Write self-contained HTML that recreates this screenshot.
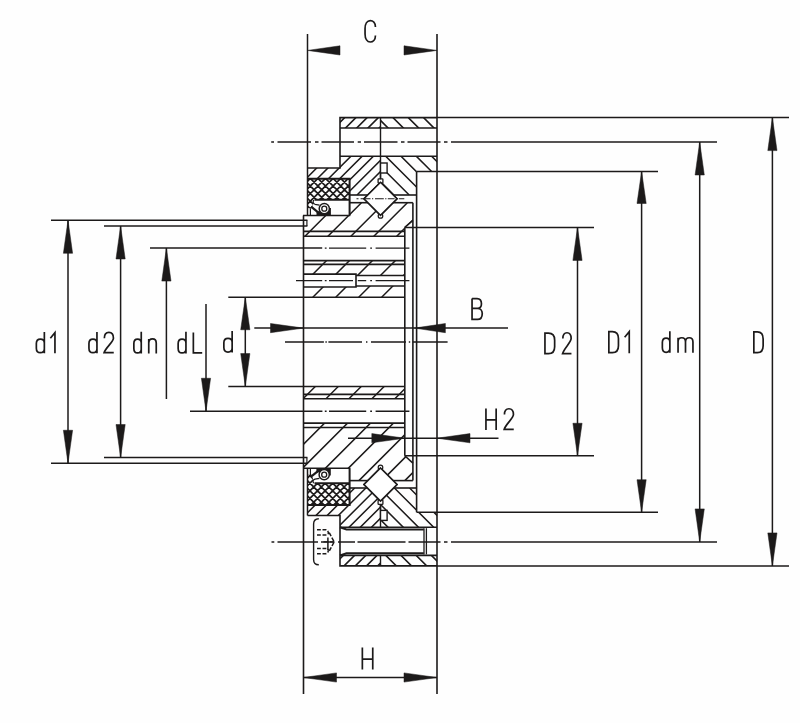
<!DOCTYPE html>
<html><head><meta charset="utf-8"><title>Bearing section</title>
<style>html,body{margin:0;padding:0;background:#fff;font-family:"Liberation Sans",sans-serif;}
svg{display:block}</style></head>
<body><svg width="800" height="723" viewBox="0 0 800 723">
<rect width="800" height="723" fill="#fefefe"/>
<defs><mask id="c1" maskUnits="userSpaceOnUse" x="0" y="0" width="800" height="723"><path d="M340.0,117.6 L380.5,117.6 L380.5,182.3 L367.8,195.0 L349.6,195.0 L349.6,178.8 L307.5,178.8 L307.5,168.0 L340.0,168.0 Z" fill="#fff" stroke="none"/><path d="M339.0,128.0 L438.0,128.0 L438.0,156.3 L339.0,156.3 Z" fill="#000" stroke="none"/></mask><mask id="c2" maskUnits="userSpaceOnUse" x="0" y="0" width="800" height="723"><path d="M380.5,117.6 L437.0,117.6 L437.0,171.5 L416.6,171.5 L416.6,195.0 L393.2,195.0 L380.5,182.3 Z" fill="#fff" stroke="none"/><path d="M339.0,128.0 L438.0,128.0 L438.0,156.3 L339.0,156.3 Z" fill="#000" stroke="none"/><path d="M380.5,163.0 L387.1,163.0 L387.1,173.0 L380.5,173.0 Z" fill="#000" stroke="none"/></mask><mask id="c3" maskUnits="userSpaceOnUse" x="0" y="0" width="800" height="723"><path d="M303.5,215.5 L349.6,215.5 L349.6,202.7 L367.9,202.7 L380.5,215.3 L393.1,202.7 L412.9,202.7 L412.9,220.3 L404.8,227.4 L404.8,297.25 L303.5,297.25 Z" fill="#fff" stroke="none"/><path d="M302.5,236.2 L405.8,236.2 L405.8,260.6 L302.5,260.6 Z" fill="#000" stroke="none"/><path d="M302.5,274.1 L356.0,274.1 L356.0,275.5 L405.8,275.5 L405.8,286.0 L356.0,286.0 L356.0,287.0 L302.5,287.0 Z" fill="#000" stroke="none"/></mask><mask id="c4" maskUnits="userSpaceOnUse" x="0" y="0" width="800" height="723"><path d="M303.5,386.55 L404.8,386.55 L404.8,455.75 L412.9,463.2 L412.9,480.6 L393.1,480.6 L380.5,468.0 L367.9,480.6 L349.6,480.6 L349.6,468.2 L303.5,468.2 Z" fill="#fff" stroke="none"/><path d="M302.5,398.75 L405.8,398.75 L405.8,423.1 L302.5,423.1 Z" fill="#000" stroke="none"/></mask><mask id="c5" maskUnits="userSpaceOnUse" x="0" y="0" width="800" height="723"><path d="M349.6,488.0 L367.5,488.0 L380.5,501.0 L380.5,565.9 L340.0,565.9 L340.0,515.5 L307.5,515.5 L307.5,505.0 L349.6,505.0 Z" fill="#fff" stroke="none"/><path d="M339.0,527.2 L438.0,527.2 L438.0,555.4 L339.0,555.4 Z" fill="#000" stroke="none"/></mask><mask id="c6" maskUnits="userSpaceOnUse" x="0" y="0" width="800" height="723"><path d="M380.5,501.0 L393.5,488.0 L416.6,488.0 L416.6,512.2 L437.0,512.2 L437.0,565.9 L380.5,565.9 Z" fill="#fff" stroke="none"/><path d="M339.0,527.2 L438.0,527.2 L438.0,555.4 L339.0,555.4 Z" fill="#000" stroke="none"/><path d="M380.5,510.4 L387.1,510.4 L387.1,520.4 L380.5,520.4 Z" fill="#000" stroke="none"/></mask><clipPath id="c7"><path d="M307.5,178.8 L349.6,178.8 L349.6,199.8 L314.0,199.8 L312.0,208.3 L307.5,208.3 Z"/></clipPath><clipPath id="c8"><path d="M307.5,505.0 L349.6,505.0 L349.6,483.2 L314.0,483.2 L312.0,474.7 L307.5,474.7 Z"/></clipPath></defs>
<g stroke="#1c1a1a" fill="none" stroke-linecap="butt">
<path d="M222.40,195.0 L299.80,117.6 M233.62,195.0 L311.02,117.6 M244.84,195.0 L322.24,117.6 M256.06,195.0 L333.46,117.6 M267.28,195.0 L344.68,117.6 M278.50,195.0 L355.90,117.6 M289.72,195.0 L367.12,117.6 M300.94,195.0 L378.34,117.6 M312.16,195.0 L389.56,117.6 M323.38,195.0 L400.78,117.6 M334.60,195.0 L412.00,117.6 M345.82,195.0 L423.22,117.6 M357.04,195.0 L434.44,117.6 M368.26,195.0 L445.66,117.6 M379.48,195.0 L456.88,117.6" stroke-width="1.5" fill="none" mask="url(#c1)"/>
<path d="M301.20,117.6 L378.60,195.0 M316.50,117.6 L393.90,195.0 M331.80,117.6 L409.20,195.0 M347.10,117.6 L424.50,195.0 M362.40,117.6 L439.80,195.0 M377.70,117.6 L455.10,195.0 M393.00,117.6 L470.40,195.0 M408.30,117.6 L485.70,195.0 M423.60,117.6 L501.00,195.0" stroke-width="1.5" fill="none" mask="url(#c2)"/>
<path d="M198.05,297.25 L292.60,202.7 M221.00,297.25 L315.55,202.7 M243.95,297.25 L338.50,202.7 M266.90,297.25 L361.45,202.7 M289.85,297.25 L384.40,202.7 M312.80,297.25 L407.35,202.7 M335.75,297.25 L430.30,202.7 M358.70,297.25 L453.25,202.7 M381.65,297.25 L476.20,202.7 M404.60,297.25 L499.15,202.7" stroke-width="1.5" fill="none" mask="url(#c3)"/>
<path d="M198.30,480.6 L292.35,386.55 M221.25,480.6 L315.30,386.55 M244.20,480.6 L338.25,386.55 M267.15,480.6 L361.20,386.55 M290.10,480.6 L384.15,386.55 M313.05,480.6 L407.10,386.55 M336.00,480.6 L430.05,386.55 M358.95,480.6 L453.00,386.55 M381.90,480.6 L475.95,386.55 M404.85,480.6 L498.90,386.55" stroke-width="1.5" fill="none" mask="url(#c4)"/>
<path d="M220.66,565.9 L298.56,488.0 M231.88,565.9 L309.78,488.0 M243.10,565.9 L321.00,488.0 M254.32,565.9 L332.22,488.0 M265.54,565.9 L343.44,488.0 M276.76,565.9 L354.66,488.0 M287.98,565.9 L365.88,488.0 M299.20,565.9 L377.10,488.0 M310.42,565.9 L388.32,488.0 M321.64,565.9 L399.54,488.0 M332.86,565.9 L410.76,488.0 M344.08,565.9 L421.98,488.0 M355.30,565.9 L433.20,488.0 M366.52,565.9 L444.42,488.0 M377.74,565.9 L455.64,488.0" stroke-width="1.5" fill="none" mask="url(#c5)"/>
<path d="M288.00,488.0 L365.90,565.9 M303.20,488.0 L381.10,565.9 M318.40,488.0 L396.30,565.9 M333.60,488.0 L411.50,565.9 M348.80,488.0 L426.70,565.9 M364.00,488.0 L441.90,565.9 M379.20,488.0 L457.10,565.9 M394.40,488.0 L472.30,565.9 M409.60,488.0 L487.50,565.9 M424.80,488.0 L502.70,565.9" stroke-width="1.5" fill="none" mask="url(#c6)"/>
<path d="M248.50,209.8 L289.50,168.8 M256.10,209.8 L297.10,168.8 M263.70,209.8 L304.70,168.8 M271.30,209.8 L312.30,168.8 M278.90,209.8 L319.90,168.8 M286.50,209.8 L327.50,168.8 M294.10,209.8 L335.10,168.8 M301.70,209.8 L342.70,168.8 M309.30,209.8 L350.30,168.8 M316.90,209.8 L357.90,168.8 M324.50,209.8 L365.50,168.8 M332.10,209.8 L373.10,168.8 M339.70,209.8 L380.70,168.8 M347.30,209.8 L388.30,168.8 M354.90,209.8 L395.90,168.8 M362.50,209.8 L403.50,168.8 M247.50,168.8 L288.50,209.8 M255.10,168.8 L296.10,209.8 M262.70,168.8 L303.70,209.8 M270.30,168.8 L311.30,209.8 M277.90,168.8 L318.90,209.8 M285.50,168.8 L326.50,209.8 M293.10,168.8 L334.10,209.8 M300.70,168.8 L341.70,209.8 M308.30,168.8 L349.30,209.8 M315.90,168.8 L356.90,209.8 M323.50,168.8 L364.50,209.8 M331.10,168.8 L372.10,209.8 M338.70,168.8 L379.70,209.8 M346.30,168.8 L387.30,209.8 M353.90,168.8 L394.90,209.8 M361.50,168.8 L402.50,209.8 M369.10,168.8 L410.10,209.8" stroke-width="1.7" fill="none" clip-path="url(#c7)"/>
<path d="M247.70,515.0 L289.50,473.2 M255.30,515.0 L297.10,473.2 M262.90,515.0 L304.70,473.2 M270.50,515.0 L312.30,473.2 M278.10,515.0 L319.90,473.2 M285.70,515.0 L327.50,473.2 M293.30,515.0 L335.10,473.2 M300.90,515.0 L342.70,473.2 M308.50,515.0 L350.30,473.2 M316.10,515.0 L357.90,473.2 M323.70,515.0 L365.50,473.2 M331.30,515.0 L373.10,473.2 M338.90,515.0 L380.70,473.2 M346.50,515.0 L388.30,473.2 M354.10,515.0 L395.90,473.2 M361.70,515.0 L403.50,473.2 M369.30,515.0 L411.10,473.2 M246.70,473.2 L288.50,515.0 M254.30,473.2 L296.10,515.0 M261.90,473.2 L303.70,515.0 M269.50,473.2 L311.30,515.0 M277.10,473.2 L318.90,515.0 M284.70,473.2 L326.50,515.0 M292.30,473.2 L334.10,515.0 M299.90,473.2 L341.70,515.0 M307.50,473.2 L349.30,515.0 M315.10,473.2 L356.90,515.0 M322.70,473.2 L364.50,515.0 M330.30,473.2 L372.10,515.0 M337.90,473.2 L379.70,515.0 M345.50,473.2 L387.30,515.0 M353.10,473.2 L394.90,515.0 M360.70,473.2 L402.50,515.0 M368.30,473.2 L410.10,515.0" stroke-width="1.7" fill="none" clip-path="url(#c8)"/>
<path d="M307.5,168.0 L340.0,168.0 L340.0,117.6 L437.0,117.6" stroke-width="1.6" fill="none" />
<line x1="340.0" y1="128.0" x2="437.0" y2="128.0" stroke-width="1.6" />
<line x1="340.0" y1="156.3" x2="437.0" y2="156.3" stroke-width="1.6" />
<line x1="380.5" y1="117.6" x2="380.5" y2="179.3" stroke-width="1.4" />
<line x1="416.6" y1="171.5" x2="416.6" y2="512.2" stroke-width="1.6" />
<line x1="416.6" y1="195.0" x2="393.2" y2="195.0" stroke-width="1.6" />
<line x1="349.6" y1="195.0" x2="367.8" y2="195.0" stroke-width="1.6" />
<path d="M307.5,178.8 L349.6,178.8 L349.6,215.5" stroke-width="2.0" fill="none" />
<path d="M314.5,199.8 L349.6,199.8" stroke-width="2.0" fill="none" />
<line x1="307.5" y1="168.0" x2="307.5" y2="215.5" stroke-width="1.5" />
<line x1="303.0" y1="215.5" x2="350.2" y2="215.5" stroke-width="1.6" />
<line x1="349.6" y1="202.7" x2="367.9" y2="202.7" stroke-width="1.6" />
<line x1="393.1" y1="202.7" x2="412.9" y2="202.7" stroke-width="1.6" />
<line x1="412.9" y1="202.7" x2="412.9" y2="480.6" stroke-width="1.6" />
<line x1="412.9" y1="220.3" x2="404.8" y2="227.4" stroke-width="1.6" />
<line x1="404.8" y1="227.4" x2="404.8" y2="455.75" stroke-width="1.6" />
<line x1="404.8" y1="455.75" x2="412.9" y2="463.2" stroke-width="1.6" />
<line x1="303.5" y1="231.4" x2="404.8" y2="231.4" stroke-width="1.6" />
<line x1="303.5" y1="236.2" x2="404.8" y2="236.2" stroke-width="1.6" />
<line x1="303.5" y1="260.6" x2="404.8" y2="260.6" stroke-width="1.6" />
<line x1="303.5" y1="264.4" x2="404.8" y2="264.4" stroke-width="1.6" />
<path d="M303.5,274.1 L356.0,274.1 L356.0,287.0 L303.5,287.0 M356.0,275.5 L404.8,275.5 M356.0,286.0 L404.8,286.0" stroke-width="1.6" fill="none" />
<line x1="303.5" y1="297.25" x2="404.8" y2="297.25" stroke-width="1.6" />
<line x1="303.5" y1="386.55" x2="404.8" y2="386.55" stroke-width="1.6" />
<line x1="303.5" y1="394.4" x2="404.8" y2="394.4" stroke-width="1.6" />
<line x1="303.5" y1="398.75" x2="404.8" y2="398.75" stroke-width="1.6" />
<line x1="303.5" y1="423.1" x2="404.8" y2="423.1" stroke-width="1.6" />
<line x1="303.5" y1="427.5" x2="404.8" y2="427.5" stroke-width="1.6" />
<line x1="303.0" y1="468.2" x2="350.2" y2="468.2" stroke-width="1.6" />
<line x1="349.6" y1="480.6" x2="367.9" y2="480.6" stroke-width="1.6" />
<line x1="393.1" y1="480.6" x2="412.9" y2="480.6" stroke-width="1.6" />
<line x1="349.6" y1="488.0" x2="367.5" y2="488.0" stroke-width="1.6" />
<line x1="393.5" y1="488.0" x2="416.6" y2="488.0" stroke-width="1.6" />
<path d="M307.5,505.0 L349.6,505.0 L349.6,468.2" stroke-width="2.0" fill="none" />
<path d="M314.5,483.2 L349.6,483.2" stroke-width="2.0" fill="none" />
<line x1="307.5" y1="468.2" x2="307.5" y2="515.5" stroke-width="1.5" />
<path d="M307.5,515.5 L340.0,515.5 L340.0,565.9 L437.0,565.9" stroke-width="1.6" fill="none" />
<line x1="340.0" y1="527.2" x2="437.0" y2="527.2" stroke-width="1.6" />
<line x1="340.0" y1="555.4" x2="437.0" y2="555.4" stroke-width="1.6" />
<path d="M340.0,527.2 L346.5,529.4 L423.8,529.4 M340.0,555.4 L346.5,553.2 L423.8,553.2" stroke-width="2.0" fill="none" />
<line x1="424.0" y1="528.2" x2="424.0" y2="554.4" stroke-width="1.3" />
<line x1="426.4" y1="528.2" x2="426.4" y2="554.4" stroke-width="1.3" />
<line x1="380.5" y1="504.5" x2="380.5" y2="527.2" stroke-width="1.4" />
<line x1="380.5" y1="555.4" x2="380.5" y2="565.9" stroke-width="1.4" />
<polygon points="380.5,182.3 397.0,198.8 380.5,215.3 364.0,198.8" stroke-width="1.6" fill="#fff" />
<polygon points="380.5,468.0 397.0,484.5 380.5,501.0 364.0,484.5" stroke-width="1.6" fill="#fff" />
<rect x="378.1" y="178.9" width="4.8" height="4.2" rx="0.6" fill="#fff" stroke-width="1.3"/>
<circle cx="380.5" cy="215.9" r="2.3" fill="#fff" stroke-width="1.2"/>
<rect x="378.1" y="500.2" width="4.8" height="4.2" rx="0.6" fill="#fff" stroke-width="1.3"/>
<circle cx="380.5" cy="467.4" r="2.3" fill="#fff" stroke-width="1.2"/>
<polygon points="380.5,182.3 397.0,198.8 380.5,215.3 364.0,198.8" stroke-width="1.6" fill="#fff" />
<polygon points="380.5,468.0 397.0,484.5 380.5,501.0 364.0,484.5" stroke-width="1.6" fill="#fff" />
<rect x="380.5" y="163.0" width="6.6" height="10.0" fill="#fff" stroke-width="1.4"/>
<rect x="380.5" y="510.4" width="6.6" height="10.0" fill="#fff" stroke-width="1.4"/>
<line x1="380.5" y1="173" x2="380.5" y2="179.3" stroke-width="1.4" />
<line x1="380.5" y1="504.5" x2="380.5" y2="510.4" stroke-width="1.4" />
<path d="M316.5,210.9 L316.5,215.4 L330.9,215.4 L330.9,207.9 L328.3,207.9 L328.3,211.7 Z" fill="#1c1a1a" stroke="none"/>
<path d="M311.1,206.7 L317.8,212.1" stroke-width="2.2" fill="none"/>
<circle cx="324.3" cy="208.7" r="5.1" fill="#fff" stroke-width="1.5"/>
<circle cx="324.3" cy="208.7" r="2.5" fill="#fff" stroke-width="1.3"/>
<path d="M319.5,205.1 L315.1,204.3 Q312.1,203.3 313.7,200.1" stroke-width="1.2" fill="none"/>
<line x1="310.4" y1="208.2" x2="310.4" y2="215.4" stroke-width="1.2"/>
<path d="M316.4,472.5 L316.4,468.0 L330.8,468.0 L330.8,475.5 L328.2,475.5 L328.2,471.7 Z" fill="#1c1a1a" stroke="none"/>
<path d="M311.0,476.7 L317.7,471.3" stroke-width="2.2" fill="none"/>
<circle cx="324.2" cy="474.7" r="5.1" fill="#fff" stroke-width="1.5"/>
<circle cx="324.2" cy="474.7" r="2.5" fill="#fff" stroke-width="1.3"/>
<path d="M319.4,478.3 L315.0,479.1 Q312.0,480.1 313.6,483.3" stroke-width="1.2" fill="none"/>
<line x1="310.4" y1="475.2" x2="310.4" y2="468.0" stroke-width="1.2"/>
<line x1="306.9" y1="220.3" x2="306.9" y2="226" stroke-width="1.2" />
<line x1="306.9" y1="457.5" x2="306.9" y2="463.25" stroke-width="1.2" />
<line x1="307.5" y1="34" x2="307.5" y2="168.0" stroke-width="1.5" />
<line x1="303.5" y1="215.5" x2="303.5" y2="694" stroke-width="1.6" />
<line x1="437.0" y1="34" x2="437.0" y2="694" stroke-width="1.6" />
<polygon points="307.50,50.40 340.00,45.80 340.00,55.00" fill="#1c1a1a" stroke="#1c1a1a" stroke-width="0.5"/>
<polygon points="437.00,50.40 404.00,55.00 404.00,45.80" fill="#1c1a1a" stroke="#1c1a1a" stroke-width="0.5"/>
<line x1="303.5" y1="677.5" x2="437.0" y2="677.5" stroke-width="1.5" />
<polygon points="303.50,677.50 336.50,672.90 336.50,682.10" fill="#1c1a1a" stroke="#1c1a1a" stroke-width="0.5"/>
<polygon points="437.00,677.50 404.00,682.10 404.00,672.90" fill="#1c1a1a" stroke="#1c1a1a" stroke-width="0.5"/>
<line x1="51" y1="220.3" x2="307.4" y2="220.3" stroke-width="1.5" />
<line x1="51" y1="463.25" x2="307.4" y2="463.25" stroke-width="1.5" />
<line x1="68" y1="220.3" x2="68" y2="463.25" stroke-width="1.5" />
<polygon points="68.00,220.30 72.60,253.30 63.40,253.30" fill="#1c1a1a" stroke="#1c1a1a" stroke-width="0.5"/>
<polygon points="68.00,463.25 63.40,430.25 72.60,430.25" fill="#1c1a1a" stroke="#1c1a1a" stroke-width="0.5"/>
<line x1="104" y1="226" x2="307.4" y2="226" stroke-width="1.5" />
<line x1="104" y1="457.5" x2="307.4" y2="457.5" stroke-width="1.5" />
<line x1="120.6" y1="226" x2="120.6" y2="457.5" stroke-width="1.5" />
<polygon points="120.60,226.00 125.20,259.00 116.00,259.00" fill="#1c1a1a" stroke="#1c1a1a" stroke-width="0.5"/>
<polygon points="120.60,457.50 116.00,424.50 125.20,424.50" fill="#1c1a1a" stroke="#1c1a1a" stroke-width="0.5"/>
<line x1="150" y1="248.1" x2="322.2" y2="248.1" stroke-width="1.5" />
<line x1="166.4" y1="248.1" x2="166.4" y2="399" stroke-width="1.5" />
<polygon points="166.40,248.10 171.00,281.10 161.80,281.10" fill="#1c1a1a" stroke="#1c1a1a" stroke-width="0.5"/>
<line x1="206" y1="304" x2="206" y2="411.2" stroke-width="1.5" />
<line x1="190" y1="411.25" x2="322.4" y2="411.25" stroke-width="1.5" />
<polygon points="206.00,411.25 201.40,378.25 210.60,378.25" fill="#1c1a1a" stroke="#1c1a1a" stroke-width="0.5"/>
<line x1="228.3" y1="297.25" x2="303.5" y2="297.25" stroke-width="1.5" />
<line x1="228.3" y1="386.55" x2="303.5" y2="386.55" stroke-width="1.5" />
<line x1="245.3" y1="297.25" x2="245.3" y2="386.55" stroke-width="1.5" />
<polygon points="245.30,297.25 249.90,329.75 240.70,329.75" fill="#1c1a1a" stroke="#1c1a1a" stroke-width="0.5"/>
<polygon points="245.30,386.55 240.70,353.55 249.90,353.55" fill="#1c1a1a" stroke="#1c1a1a" stroke-width="0.5"/>
<line x1="254.3" y1="328.1" x2="508" y2="328.1" stroke-width="1.5" />
<polygon points="303.50,328.10 270.50,332.70 270.50,323.50" fill="#1c1a1a" stroke="#1c1a1a" stroke-width="0.5"/>
<polygon points="414.40,328.10 445.40,323.50 445.40,332.70" fill="#1c1a1a" stroke="#1c1a1a" stroke-width="0.5"/>
<line x1="348" y1="438.2" x2="498.5" y2="438.2" stroke-width="1.5" />
<polygon points="404.80,438.20 371.80,442.80 371.80,433.60" fill="#1c1a1a" stroke="#1c1a1a" stroke-width="0.5"/>
<polygon points="437.00,438.20 470.00,433.60 470.00,442.80" fill="#1c1a1a" stroke="#1c1a1a" stroke-width="0.5"/>
<line x1="437.0" y1="117.6" x2="789" y2="117.6" stroke-width="1.5" />
<line x1="437.0" y1="565.9" x2="789" y2="565.9" stroke-width="1.5" />
<line x1="772.4" y1="117.6" x2="772.4" y2="565.9" stroke-width="1.5" />
<polygon points="772.40,117.60 777.00,150.60 767.80,150.60" fill="#1c1a1a" stroke="#1c1a1a" stroke-width="0.5"/>
<polygon points="772.40,565.90 767.80,532.90 777.00,532.90" fill="#1c1a1a" stroke="#1c1a1a" stroke-width="0.5"/>
<line x1="451" y1="142" x2="717" y2="142" stroke-width="1.5" />
<line x1="451" y1="541.9" x2="717" y2="541.9" stroke-width="1.5" />
<line x1="699.7" y1="142" x2="699.7" y2="541.9" stroke-width="1.5" />
<polygon points="699.70,142.00 704.30,175.00 695.10,175.00" fill="#1c1a1a" stroke="#1c1a1a" stroke-width="0.5"/>
<polygon points="699.70,541.90 695.10,508.90 704.30,508.90" fill="#1c1a1a" stroke="#1c1a1a" stroke-width="0.5"/>
<line x1="416.6" y1="171.5" x2="658" y2="171.5" stroke-width="1.5" />
<line x1="416.6" y1="512.2" x2="658" y2="512.2" stroke-width="1.5" />
<line x1="641.6" y1="171.5" x2="641.6" y2="512.2" stroke-width="1.5" />
<polygon points="641.60,171.50 646.20,203.50 637.00,203.50" fill="#1c1a1a" stroke="#1c1a1a" stroke-width="0.5"/>
<polygon points="641.60,512.20 637.00,479.70 646.20,479.70" fill="#1c1a1a" stroke="#1c1a1a" stroke-width="0.5"/>
<line x1="404.8" y1="227.4" x2="594" y2="227.4" stroke-width="1.5" />
<line x1="404.8" y1="455.75" x2="594" y2="455.75" stroke-width="1.5" />
<line x1="577.5" y1="227.4" x2="577.5" y2="455.75" stroke-width="1.5" />
<polygon points="577.50,227.40 582.10,260.40 572.90,260.40" fill="#1c1a1a" stroke="#1c1a1a" stroke-width="0.5"/>
<polygon points="577.50,455.75 572.90,423.25 582.10,423.25" fill="#1c1a1a" stroke="#1c1a1a" stroke-width="0.5"/>
<path d="M271.2,142 L274,142 M277.5,142 L311,142 M315,142 L318.5,142 M321.5,142 L354,142 M357.7,142 L361,142 M364,142 L397.5,142 M401,142 L404.5,142 M407.5,142 L440.5,142 M444,142 L447.5,142" stroke-width="1.45" fill="none" />
<path d="M271.5,541.9 L274.3,541.9 M277.5,541.9 L318,541.9 M321,541.9 L334.5,541.9 M338,541.9 L355,541.9 M357.5,541.9 L405.5,541.9 M408.5,541.9 L440.5,541.9 M444,541.9 L447.5,541.9" stroke-width="1.45" fill="none" />
<path d="M356.5,198.8 L358.5,198.8 M360.6,198.8 L370.5,198.8 M372,198.8 L373.2,198.8 M375,198.8 L383.8,198.8 M385.2,198.8 L386.4,198.8 M387.8,198.8 L394.6,198.8 M396,198.8 L397,198.8 M398.8,198.8 L404.3,198.8" stroke-width="1.1" fill="none" />
<path d="M324.8,248.1 L326.6,248.1 M329,248.1 L366.2,248.1 M370.2,248.1 L372,248.1 M375.6,248.1 L409.4,248.1" stroke-width="1.45" fill="none" />
<path d="M296,280.6 L322.2,280.6 M324.8,280.6 L326.6,280.6 M329,280.6 L353,280.6 M357.8,280.6 L366.2,280.6 M370.2,280.6 L372,280.6 M375.6,280.6 L409.4,280.6" stroke-width="1.45" fill="none" />
<path d="M285,341.9 L323.9,341.9 M325.4,341.9 L326.8,341.9 M328.4,341.9 L362,341.9 M366,341.9 L367.4,341.9 M371,341.9 L406,341.9 M408.8,341.9 L410.2,341.9 M412.8,341.9 L447.6,341.9" stroke-width="1.45" fill="none" />
<path d="M324.8,411.25 L326.6,411.25 M329,411.25 L366.2,411.25 M370.2,411.25 L372,411.25 M375.6,411.25 L409.4,411.25" stroke-width="1.45" fill="none" />
<path d="M318.8,518.7 Q313.6,518.7 313.6,524 L313.6,559.5 Q313.6,564.8 318.8,564.8" stroke-width="1.4" fill="none" />
<path d="M317,529.7 L325.5,529.7 Q328.6,529.9 328.4,534.2 M317,534.9 L326,534.9 Q328,534.9 328.4,533" stroke-width="1.55" fill="none" stroke-dasharray="3.8 1.7"/>
<path d="M317,553.7 L325.5,553.7 Q328.6,553.5 328.4,549.2 M317,548.4 L326,548.4 Q328,548.4 328.4,550.4" stroke-width="1.55" fill="none" stroke-dasharray="3.8 1.7"/>
<path d="M327.9,537.5 L327.9,550" stroke-width="1.5" fill="none" />
<path d="M329.2,532.6 L334.2,541.9 L329.2,551.2" stroke-width="1.5" fill="none" stroke-dasharray="4 1.6"/>
<path d="M323.5,541.9 L334,541.9" stroke-width="1.4" fill="none" stroke-dasharray="5 1.5"/>
<path d="M375.45,27.05 C375.45,22.55 372.85,20.55 370.25,20.55 C367.25,20.55 365.05,23.55 365.05,28.55 L365.05,34.0 C365.05,39.0 367.25,42.0 370.25,42.0 C372.85,42.0 375.45,40.0 375.45,35.5" stroke-width="1.7" fill="none" />
<path d="M362.35,647.6 L362.35,669.4 M372.75,647.6 L372.75,669.4 M362.35,659.15 L372.75,659.15" stroke-width="1.7" fill="none" />
<path d="M472.05,298.55 L472.05,319.45 L477.55,319.45 C480.65,319.45 482.25,317.25 482.25,313.45 C482.25,310.57 480.25,308.37 477.55,308.37 L472.05,308.37 M477.55,308.37 C479.85,308.37 481.45,306.57 481.45,303.75 C481.45,300.35 479.65,298.55 477.05,298.55 L472.05,298.55" stroke-width="1.7" fill="none" stroke-linejoin="miter"/>
<path d="M485.95,408.4 L485.95,430.0 M496.15,408.4 L496.15,430.0 M485.95,419.85 L496.15,419.85" stroke-width="1.7" fill="none" />
<path d="M504.45,414.55 C504.45,410.35 506.35,408.75 508.95,408.75 C511.55,408.75 513.45,410.35 513.45,414.55 C513.45,418.25 505.65,424.25 504.15,429.45 L513.75,429.45" stroke-width="1.7" fill="none" stroke-linejoin="miter"/>
<path d="M44.35,331.9 L44.35,353.2 M44.35,343.1 C44.35,340.1 42.55,339.1 40.35,339.1 C37.95,339.1 36.35,340.7 36.35,343.6 L36.35,348.2 C36.35,351.1 37.95,352.7 40.35,352.7 C42.55,352.7 44.35,351.7 44.35,348.7" stroke-width="1.7" fill="none" />
<path d="M50.35,338.2 L54.95,332.6 L54.95,353.2" stroke-width="1.7" fill="none" stroke-linejoin="miter"/>
<path d="M96.95,331.9 L96.95,353.2 M96.95,343.1 C96.95,340.1 95.15,339.1 92.95,339.1 C90.55,339.1 88.95,340.7 88.95,343.6 L88.95,348.2 C88.95,351.1 90.55,352.7 92.95,352.7 C95.15,352.7 96.95,351.7 96.95,348.7" stroke-width="1.7" fill="none" />
<path d="M104.35,338.15 C104.35,333.95 106.25,332.35 108.9,332.35 C111.55,332.35 113.45,333.95 113.45,338.15 C113.45,341.85 105.55,347.85 104.05,352.65 L113.75,352.65" stroke-width="1.7" fill="none" stroke-linejoin="miter"/>
<path d="M141.25,331.8 L141.25,353.4 M141.25,343.1 C141.25,340.1 139.45,339.1 137.55,339.1 C135.45,339.1 133.85,340.7 133.85,343.6 L133.85,348.4 C133.85,351.3 135.45,352.9 137.55,352.9 C139.45,352.9 141.25,351.9 141.25,348.9" stroke-width="1.7" fill="none" />
<path d="M148.75,338.95 L148.75,353.4 M148.75,343.15 C148.75,340.25 150.55,338.95 152.5,338.95 C154.45,338.95 156.25,340.25 156.25,343.15 L156.25,353.4" stroke-width="1.7" fill="none" />
<path d="M185.95,331.8 L185.95,353.4 M185.95,343.1 C185.95,340.1 184.15,339.1 182.05,339.1 C179.75,339.1 178.15,340.7 178.15,343.6 L178.15,348.4 C178.15,351.3 179.75,352.9 182.05,352.9 C184.15,352.9 185.95,351.9 185.95,348.9" stroke-width="1.7" fill="none" />
<path d="M193.35,332.4 L193.35,352.85 L202.2,352.85" stroke-width="1.7" fill="none" stroke-linejoin="miter"/>
<path d="M232.15,331.0 L232.15,352.6 M232.15,342.3 C232.15,339.3 230.35,338.3 228.0,338.3 C225.45,338.3 223.85,339.9 223.85,342.8 L223.85,347.6 C223.85,350.5 225.45,352.1 228.0,352.1 C230.35,352.1 232.15,351.1 232.15,348.1" stroke-width="1.7" fill="none" />
<path d="M544.95,333.15 L544.95,353.65 L548.45,353.65 C552.65,353.65 554.65,351.15 554.65,346.65 L554.65,340.15 C554.65,335.65 552.65,333.15 548.45,333.15 Z" stroke-width="1.7" fill="none" stroke-linejoin="miter"/>
<path d="M562.85,338.55 C562.85,334.35 564.75,332.75 567.0,332.75 C569.25,332.75 571.15,334.35 571.15,338.55 C571.15,342.25 564.05,348.25 562.55,353.65 L571.45,353.65" stroke-width="1.7" fill="none" stroke-linejoin="miter"/>
<path d="M608.85,331.55 L608.85,352.65 L612.35,352.65 C616.45,352.65 618.45,350.15 618.45,345.65 L618.45,338.55 C618.45,334.05 616.45,331.55 612.35,331.55 Z" stroke-width="1.7" fill="none" stroke-linejoin="miter"/>
<path d="M624.65,337.2 L629.25,331.6 L629.25,353.2" stroke-width="1.7" fill="none" stroke-linejoin="miter"/>
<path d="M669.85,331.3 L669.85,352.8 M669.85,342.1 C669.85,339.1 668.05,338.1 666.1,338.1 C663.95,338.1 662.35,339.7 662.35,342.6 L662.35,347.8 C662.35,350.7 663.95,352.3 666.1,352.3 C668.05,352.3 669.85,351.3 669.85,348.3" stroke-width="1.7" fill="none" />
<path d="M678.05,341.95 C678.05,339.05 679.65,337.75 681.77,337.75 C683.9,337.75 685.5,339.05 685.5,341.95 L685.5,352.8 M685.5,341.95 C685.5,339.05 687.1,337.75 689.23,337.75 C691.35,337.75 692.95,339.05 692.95,341.95 L692.95,352.8 M678.05,337.75 L678.05,352.8" stroke-width="1.7" fill="none" />
<path d="M753.85,331.95 L753.85,352.65 L757.35,352.65 C761.15,352.65 763.15,350.15 763.15,345.65 L763.15,338.95 C763.15,334.45 761.15,331.95 757.35,331.95 Z" stroke-width="1.7" fill="none" stroke-linejoin="miter"/>
</g></svg></body></html>
